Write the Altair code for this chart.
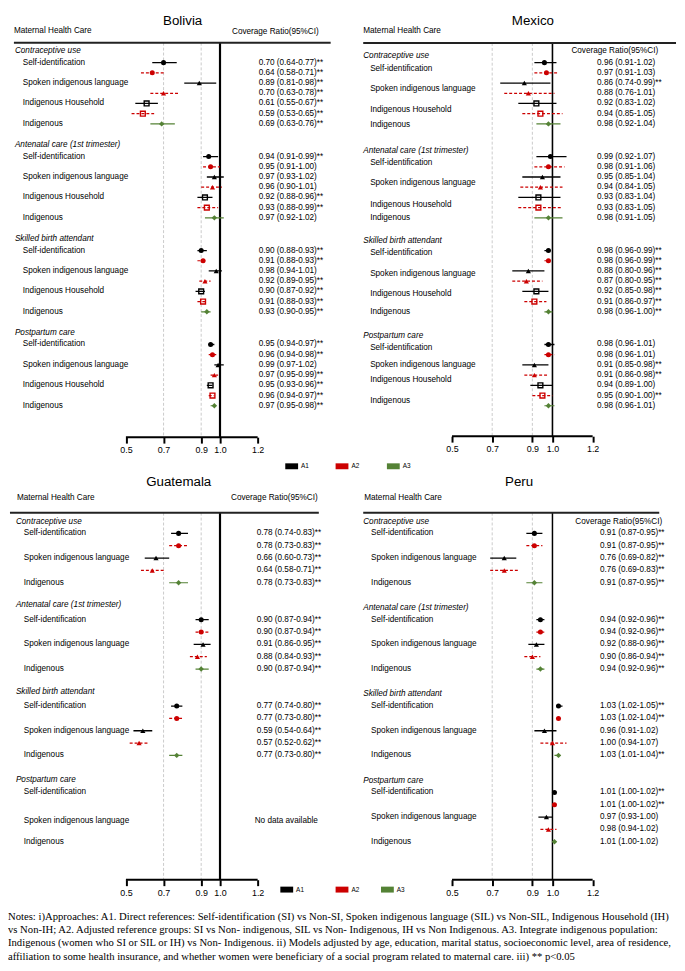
import altair as alt
import pandas as pd

FONT = "Liberation Sans"
SERIF = "Liberation Serif"

# ---------------- data ----------------
groups = ["Contraceptive use", "Antenatal care (1st trimester)",
          "Skilled birth attendant", "Postpartum care"]
SI, SIL, IH, IND = ("Self-identification", "Spoken indigenous language",
                    "Indigenous Household", "Indigenous")
rows_full = [(SI, "A1"), (SI, "A2"), (SIL, "A1"), (SIL, "A2"),
             (IH, "A1"), (IH, "A2"), (IND, "A3")]
rows_short = [(SI, "A1"), (SI, "A2"), (SIL, "A1"), (SIL, "A2"), (IND, "A3")]
approaches = ["A1", "A2", "A3"]
approach_colors = ["#000000", "#CC0000", "#548235"]
axis_ticks = [0.5, 0.7, 0.9, 1.0, 1.2]
ref_lines = [0.7, 0.9, 1.0]

bolivia_est = [0.70, 0.64, 0.89, 0.70, 0.61, 0.59, 0.69,
               0.94, 0.95, 0.97, 0.96, 0.92, 0.93, 0.97,
               0.90, 0.91, 0.98, 0.92, 0.90, 0.91, 0.93,
               0.95, 0.96, 0.99, 0.97, 0.95, 0.96, 0.97]
bolivia_lo = [0.64, 0.58, 0.81, 0.63, 0.55, 0.53, 0.63,
              0.91, 0.91, 0.93, 0.90, 0.88, 0.88, 0.92,
              0.88, 0.88, 0.94, 0.89, 0.87, 0.88, 0.90,
              0.94, 0.94, 0.97, 0.95, 0.93, 0.94, 0.95]
bolivia_hi = [0.77, 0.71, 0.98, 0.78, 0.67, 0.65, 0.76,
              0.99, 1.00, 1.02, 1.01, 0.96, 0.99, 1.02,
              0.93, 0.93, 1.01, 0.95, 0.92, 0.93, 0.95,
              0.97, 0.98, 1.02, 0.99, 0.96, 0.97, 0.98]
bolivia_sig = [1, 1, 1, 1, 1, 1, 1,
               1, 0, 0, 0, 1, 1, 0,
               1, 1, 0, 1, 1, 1, 1,
               1, 1, 0, 1, 1, 1, 1]

mexico_est = [0.96, 0.97, 0.86, 0.88, 0.92, 0.94, 0.98,
              0.99, 0.98, 0.95, 0.94, 0.93, 0.93, 0.98,
              0.98, 0.98, 0.88, 0.87, 0.92, 0.91, 0.98,
              0.98, 0.98, 0.91, 0.91, 0.94, 0.95, 0.98]
mexico_lo = [0.91, 0.91, 0.74, 0.76, 0.83, 0.85, 0.92,
             0.92, 0.91, 0.85, 0.84, 0.83, 0.83, 0.91,
             0.96, 0.96, 0.80, 0.80, 0.85, 0.86, 0.96,
             0.96, 0.96, 0.85, 0.86, 0.89, 0.90, 0.96]
mexico_hi = [1.02, 1.03, 0.99, 1.01, 1.02, 1.05, 1.04,
             1.07, 1.06, 1.04, 1.05, 1.04, 1.05, 1.05,
             0.99, 0.99, 0.96, 0.95, 0.98, 0.97, 1.00,
             1.01, 1.01, 0.98, 0.98, 1.00, 1.00, 1.01]
mexico_sig = [0, 0, 1, 0, 0, 0, 0,
              0, 0, 0, 0, 0, 0, 0,
              1, 1, 1, 1, 1, 1, 1,
              0, 0, 1, 1, 0, 1, 0]

guatemala_est = [0.78, 0.78, 0.66, 0.64, 0.78,
                 0.90, 0.90, 0.91, 0.88, 0.90,
                 0.77, 0.77, 0.59, 0.57, 0.77]
guatemala_lo = [0.74, 0.73, 0.60, 0.58, 0.73,
                0.87, 0.87, 0.86, 0.84, 0.87,
                0.74, 0.73, 0.54, 0.52, 0.73]
guatemala_hi = [0.83, 0.83, 0.73, 0.71, 0.83,
                0.94, 0.94, 0.95, 0.93, 0.94,
                0.80, 0.80, 0.64, 0.62, 0.80]
guatemala_sig = [1] * 15

peru_est = [0.91, 0.91, 0.76, 0.76, 0.91,
            0.94, 0.94, 0.92, 0.90, 0.94,
            1.03, 1.03, 0.96, 1.00, 1.03,
            1.01, 1.01, 0.97, 0.98, 1.01]
peru_lo = [0.87, 0.87, 0.69, 0.69, 0.87,
           0.92, 0.92, 0.88, 0.86, 0.92,
           1.02, 1.02, 0.91, 0.94, 1.01,
           1.00, 1.00, 0.93, 0.94, 1.00]
peru_hi = [0.95, 0.95, 0.82, 0.83, 0.95,
           0.96, 0.96, 0.96, 0.94, 0.96,
           1.05, 1.04, 1.02, 1.07, 1.04,
           1.02, 1.02, 1.00, 1.02, 1.02]
peru_sig = [1, 1, 1, 1, 1,
            1, 1, 1, 1, 1,
            1, 1, 0, 0, 1,
            1, 1, 0, 0, 0]

note_lines = [
    "Notes: i)Approaches: A1. Direct references: Self-identification (SI) vs Non-SI, Spoken indigenous language (SIL) vs Non-SIL, Indigenous Household (IH)",
    "vs Non-IH; A2. Adjusted reference groups: SI vs Non- indigenous, SIL vs Non- Indigenous, IH vs Non Indigenous. A3. Integrate indigenous population:",
    "Indigenous (women who SI or SIL or IH) vs Non- Indigenous. ii) Models adjusted by age, education, marital status, socioeconomic level, area of residence,",
    "affiliation to some health insurance, and whether women were beneficiary of a social program related to maternal care. iii) ** p<0.05",
]

# ---------------- layout ----------------
LW, RW = 332, 345
TOP_H, BOT_H = 466, 440
TXT = 8.3


def xdom(x05, x12, left, width):
    ppu = (x12 - x05) / 0.7
    d0 = 0.5 - (x05 - left) / ppu
    return [d0, d0 + width / ppu]


def ydom(y0, unit, H):
    return [-y0 / unit, (H - y0) / unit]


color_scale = alt.Scale(domain=approaches, range=approach_colors)
shape_scale = alt.Scale(domain=[SI, SIL, IH, IND],
                        range=["circle", "triangle-up", "square", "diamond"])
size_scale = alt.Scale(domain=[SI, SIL, IH, IND], range=[26, 30, 26, 16])
dash_scale = alt.Scale(domain=approaches, range=[[1, 0], [3, 2], [1, 0]])
op_scale = alt.Scale(domain=approaches, range=[1, 1, 0.6])
width_scale = alt.Scale(domain=approaches, range=[1.3, 1.2, 1.0])


def make_panel(name, est, lo, hi, sig, rows, L):
    n = len(rows)
    recs = []
    for i in range(len(est)):
        g, k = divmod(i, n)
        m, a = rows[k]
        recs.append({"measure": m, "approach": a, "est": est[i], "lo": lo[i],
                     "hi": hi[i], "r": L["g_step"] * g + L["first"] + k,
                     "ci": f"{est[i]:.2f} ({lo[i]:.2f}-{hi[i]:.2f})" + ("**" if sig[i] else "")})
    df = pd.DataFrame(recs)

    labs, hdrs = [], []
    for g, gname in enumerate(groups):
        hdrs.append({"t": gname, "r": L["hdr_r"][g]})
        for k, (m, a) in enumerate(rows):
            if a != "A2":
                off = L.get("lab_off", {}).get((g, m), 0)
                labs.append({"t": m, "r": L["g_step"] * g + L["first"] + k + off})
    lab_df = pd.DataFrame(labs)
    hdr_df = pd.DataFrame(hdrs)

    xs = alt.Scale(domain=L["xdom"], nice=False, zero=False)
    ys = alt.Scale(domain=L["ydom"], reverse=True, nice=False, zero=False)
    xa = alt.Axis(values=axis_ticks, format=".1f", domain=False, grid=False,
                  ticks=True, tickSize=6, tickWidth=2, tickColor="black",
                  labelFontSize=9, labelFont=FONT, labelColor="black",
                  labelPadding=3, labelFlush=False, offset=L["axis_y"] - L["H"],
                  title=None)

    one = pd.DataFrame({"t": [name]})
    layers = []
    layers.append(alt.Chart(pd.DataFrame({"v": ref_lines[:2]})).mark_rule(
        color="#bdbdbd", strokeWidth=0.8, strokeDash=[3, 2]).encode(
        x=alt.X("v:Q", scale=xs, axis=xa),
        y=alt.value(L["hl_y"]), y2=alt.value(L["axis_y"])))
    layers.append(alt.Chart(pd.DataFrame({"v": ref_lines[2:]})).mark_rule(
        color="black", strokeWidth=L["one_w"]).encode(
        x=alt.X("v:Q", scale=xs, axis=xa),
        y=alt.value(L["hl_y"]), y2=alt.value(L["axis_y"])))
    layers.append(alt.Chart(pd.DataFrame({"a": [axis_ticks[0]], "b": [axis_ticks[-1]]})).mark_rule(
        color="black", strokeWidth=2).encode(
        x=alt.X("a:Q", scale=xs, axis=xa), x2="b:Q", y=alt.value(L["axis_y"])))
    layers.append(alt.Chart(one).mark_rule(color="#222222", strokeWidth=2).encode(
        x=alt.value(L["hl_x"][0]), x2=alt.value(L["hl_x"][1]), y=alt.value(L["hl_y"])))
    layers.append(alt.Chart(df).mark_rule().encode(
        x=alt.X("lo:Q", scale=xs, axis=xa), x2="hi:Q",
        y=alt.Y("r:Q", scale=ys, axis=None),
        color=alt.Color("approach:N", scale=color_scale, legend=None),
        strokeDash=alt.StrokeDash("approach:N", scale=dash_scale, legend=None),
        opacity=alt.Opacity("approach:N", scale=op_scale, legend=None),
        strokeWidth=alt.StrokeWidth("approach:N", scale=width_scale, legend=None)))
    layers.append(alt.Chart(df).transform_filter(alt.datum.measure != IH).mark_point(
        filled=True, opacity=1).encode(
        x=alt.X("est:Q", scale=xs, axis=xa),
        y=alt.Y("r:Q", scale=ys, axis=None),
        shape=alt.Shape("measure:N", scale=shape_scale, legend=None),
        size=alt.Size("measure:N", scale=size_scale, legend=None),
        color=alt.Color("approach:N", scale=color_scale, legend=None)))
    layers.append(alt.Chart(df).transform_filter(alt.datum.measure == IH).mark_point(
        filled=False, shape="square", size=24, strokeWidth=1.4, opacity=1).encode(
        x=alt.X("est:Q", scale=xs, axis=xa),
        y=alt.Y("r:Q", scale=ys, axis=None),
        color=alt.Color("approach:N", scale=color_scale, legend=None)))
    layers.append(alt.Chart(df).mark_text(
        align="left", baseline="middle", fontSize=TXT, font=FONT, color="black").encode(
        x=alt.value(L["ci_x"]), y=alt.Y("r:Q", scale=ys, axis=None), text="ci:N"))
    layers.append(alt.Chart(lab_df).mark_text(
        align="left", baseline="middle", fontSize=TXT, font=FONT, color="black").encode(
        x=alt.value(L["lab_x"]), y=alt.Y("r:Q", scale=ys, axis=None), text="t:N"))
    layers.append(alt.Chart(hdr_df).mark_text(
        align="left", baseline="middle", fontSize=TXT, font=FONT, fontStyle="italic",
        color="black").encode(
        x=alt.value(L["hdr_x"]), y=alt.Y("r:Q", scale=ys, axis=None), text="t:N"))
    layers.append(alt.Chart(one).mark_text(
        align="center", baseline="middle", fontSize=13.5, font=FONT, color="black").encode(
        x=alt.value(L["title"][0]), y=alt.value(L["title"][1]), text="t:N"))
    layers.append(alt.Chart(pd.DataFrame({"t": ["Maternal Health Care"]})).mark_text(
        align="left", baseline="middle", fontSize=TXT, font=FONT, color="black").encode(
        x=alt.value(L["mhc"][0]), y=alt.value(L["mhc"][1]), text="t:N"))
    layers.append(alt.Chart(pd.DataFrame({"t": ["Coverage Ratio(95%CI)"]})).mark_text(
        align="left", baseline="middle", fontSize=TXT, font=FONT, color="black").encode(
        x=alt.value(L["cr"][0]), y=alt.value(L["cr"][1]), text="t:N"))
    if "nodata" in L:
        layers.append(alt.Chart(pd.DataFrame({"t": ["No data available"], "r": [L["nodata"][1]]})).mark_text(
            align="left", baseline="middle", fontSize=TXT, font=FONT, color="black").encode(
            x=alt.value(L["nodata"][0]), y=alt.Y("r:Q", scale=ys, axis=None), text="t:N"))
    for key, bx, by in L["legend"]:
        kd = pd.DataFrame({"k": [key]})
        layers.append(alt.Chart(kd).mark_rect().encode(
            x=alt.value(bx), x2=alt.value(bx + 13), y=alt.value(by - 3), y2=alt.value(by + 3),
            color=alt.Color("k:N", scale=color_scale, legend=None)))
        layers.append(alt.Chart(kd).mark_text(
            align="left", baseline="middle", fontSize=6.5, font=FONT, color="black").encode(
            x=alt.value(bx + 16), y=alt.value(by), text="k:N"))
    if "notes" in L:
        ny0, nstep, unit, y0 = L["notes"]
        nd = pd.DataFrame({"t": note_lines,
                           "r": [(ny0 + nstep * i - y0) / unit for i in range(len(note_lines))]})
        layers.append(alt.Chart(nd).mark_text(
            align="left", baseline="middle", fontSize=10.8, font=SERIF, color="black").encode(
            x=alt.value(0), y=alt.Y("r:Q", scale=ys, axis=None), text="t:N"))
    return alt.layer(*layers).properties(width=L["W"], height=L["H"])


L_bol = dict(W=LW, H=TOP_H, xdom=xdom(127.5, 261, 8, LW), ydom=ydom(37, 10.35, TOP_H),
             g_step=9.2, first=1.15, hdr_r=[0, 9.2, 18.4, 27.6],
             title=(177, 7), mhc=(6, 17), cr=(227, 18), hl_x=(6, 327), hl_y=28.7,
             hdr_x=7, lab_x=15, ci_x=254, axis_y=428.5, one_w=2.2,
             legend=[("A1", 281, 458)])
mex_off = {(0, SI): .6, (0, SIL): .6, (0, IH): .6, (0, IND): .1,
           (1, SI): .6, (1, SIL): .6, (1, IH): .7,
           (2, SI): .2, (2, SIL): .3, (2, IH): .3,
           (3, SI): .3, (3, IH): -.5, (3, IND): -.5}
L_mex = dict(W=RW, H=TOP_H, xdom=xdom(458, 600.5, 340, RW), ydom=ydom(37, 10.35, TOP_H),
             g_step=9.2, first=1.15, hdr_r=[0.5, 9.8, 18.6, 27.9], lab_off=mex_off,
             title=(200, 7), mhc=(28, 17), cr=(239, 37), hl_x=(28, 345), hl_y=29,
             hdr_x=28, lab_x=35, ci_x=265, axis_y=427.5, one_w=1.6,
             legend=[("A2", 0, 458), ("A3", 52, 458)])
L_gua = dict(W=LW, H=BOT_H, xdom=xdom(127.5, 261, 8, LW), ydom=ydom(48, 12.5, BOT_H),
             g_step=7, first=0.96, hdr_r=[0, 6.8, 13.84, 20.96],
             lab_off={(3, SIL): 0.3},
             title=(173, 8), mhc=(9, 24), cr=(226, 24), hl_x=(2, 315), hl_y=39,
             hdr_x=8, lab_x=16, ci_x=252, axis_y=411, one_w=2.2,
             nodata=(250, 7 * 3 + 0.96 + 2 + 0.3),
             legend=[("A1", 276, 421)],
             notes=(449, 13.3, 12.5, 48))
L_per = dict(W=RW, H=BOT_H, xdom=xdom(458, 600.5, 340, RW), ydom=ydom(48, 12.5, BOT_H),
             g_step=7, first=0.96, hdr_r=[0, 7.04, 14.0, 21.0],
             title=(186, 8), mhc=(29, 24), cr=(243, 48), hl_x=(28, 328), hl_y=39,
             hdr_x=28, lab_x=36, ci_x=268, axis_y=411, one_w=1.5,
             legend=[("A2", 0, 421), ("A3", 46, 421)])

bol = make_panel("Bolivia", bolivia_est, bolivia_lo, bolivia_hi, bolivia_sig, rows_full, L_bol)
mex = make_panel("Mexico", mexico_est, mexico_lo, mexico_hi, mexico_sig, rows_full, L_mex)
gua = make_panel("Guatemala", guatemala_est, guatemala_lo, guatemala_hi, guatemala_sig, rows_short, L_gua)
per = make_panel("Peru", peru_est, peru_lo, peru_hi, peru_sig, rows_short, L_per)

chart = alt.concat(bol, mex, gua, per, columns=2, spacing=0, bounds="flush").properties(
    padding=0).configure(font=FONT).configure_view(stroke=None)

chart.save("out.html", embed_options={"renderer": "svg", "actions": False})
